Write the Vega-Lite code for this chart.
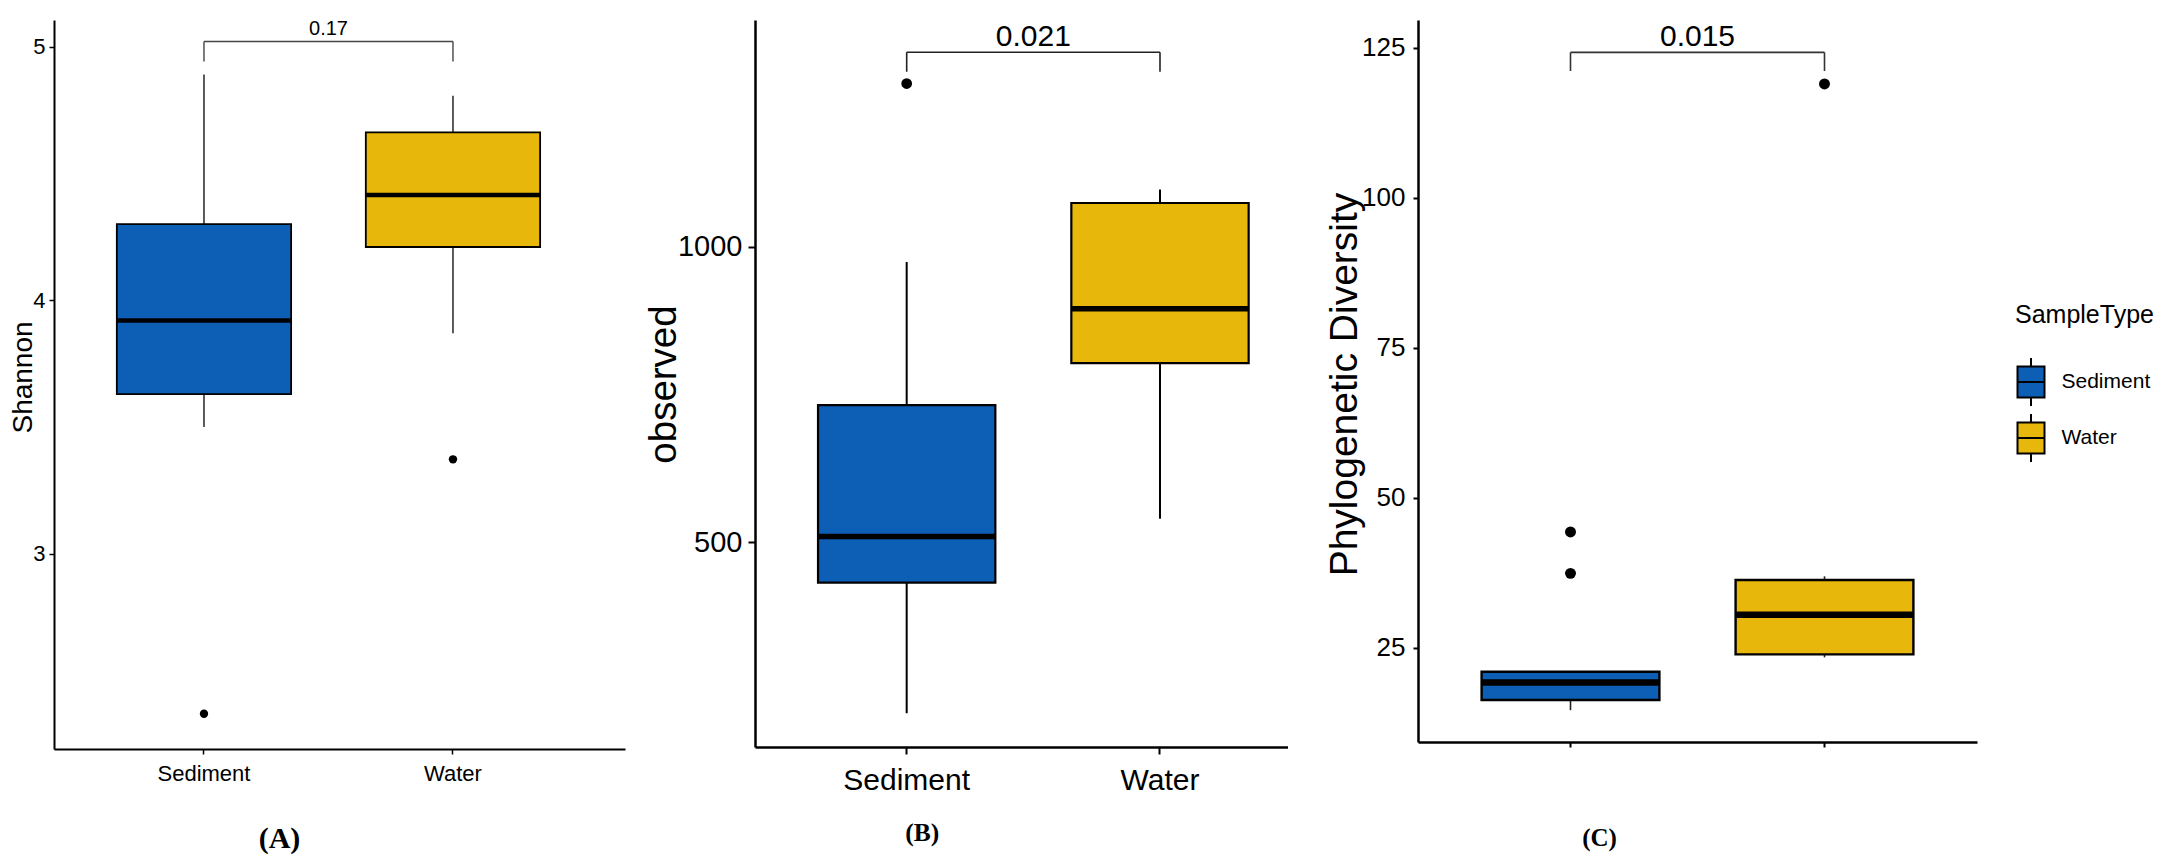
{
  "$schema": "https://vega.github.io/schema/vega-lite/v6.json",
  "autosize": {"type": "none"},
  "padding": {"left": 54, "top": 20, "right": 2112, "bottom": 838},
  "background": "white",
  "spacing": 130,
  "bounds": "flush",
  "config": {
    "view": {"stroke": null},
    "axis": {"grid": false, "domainColor": "black", "tickColor": "black", "labelColor": "black", "titleColor": "black", "titleFontWeight": "normal"}
  },
  "resolve": {"scale": {"fill": "independent"}, "legend": {"fill": "independent"}},
  "datasets": {
    "shannon_box": [
      {"SampleType": "Sediment", "lower": 3.50, "q1": 3.63, "median": 3.92, "q3": 4.30, "upper": 4.89},
      {"SampleType": "Water", "lower": 3.87, "q1": 4.21, "median": 4.415, "q3": 4.662, "upper": 4.806}
    ],
    "shannon_out": [
      {"SampleType": "Sediment", "value": 2.37},
      {"SampleType": "Water", "value": 3.373}
    ],
    "shannon_sig": [
      {"group1": "Sediment", "group2": "Water", "y_top": 5.02, "y_leg": 4.941, "p": "0.17"}
    ],
    "observed_box": [
      {"SampleType": "Sediment", "lower": 211, "q1": 432, "median": 510, "q3": 732, "upper": 974},
      {"SampleType": "Water", "lower": 540, "q1": 803, "median": 895, "q3": 1074, "upper": 1097}
    ],
    "observed_out": [
      {"SampleType": "Sediment", "value": 1276}
    ],
    "observed_sig": [
      {"group1": "Sediment", "group2": "Water", "y_top": 1329, "y_leg": 1296, "p": "0.021"}
    ],
    "pd_box": [
      {"SampleType": "Sediment", "lower": 14.6, "q1": 16.3, "median": 19.2, "q3": 21.0, "upper": 21.1},
      {"SampleType": "Water", "lower": 23.4, "q1": 23.9, "median": 30.5, "q3": 36.3, "upper": 36.9}
    ],
    "pd_out": [
      {"SampleType": "Sediment", "value": 44.3},
      {"SampleType": "Sediment", "value": 37.4},
      {"SampleType": "Water", "value": 118.95}
    ],
    "pd_sig": [
      {"group1": "Sediment", "group2": "Water", "y_top": 124.2, "y_leg": 121.1, "p": "0.015"}
    ]
  },
  "hconcat": [
    {
      "width": 571,
      "height": 729,
      "title": {"text": "(A)", "orient": "bottom", "anchor": "middle", "frame": "group", "dx": -60, "offset": 40, "font": "Liberation Serif", "fontSize": 30, "fontWeight": "bold", "color": "black", "baseline": "top"},
      "layer": [
        {
          "data": {"name": "shannon_box"},
          "mark": {"type": "rule", "color": "#333333", "strokeWidth": 1.6},
          "encoding": {
            "x": {"field": "SampleType", "type": "nominal", "scale": {"type": "band", "domain": ["Sediment", "Water"], "paddingInner": 0, "paddingOuter": 0.1466, "align": 0.349},
              "axis": {"title": null, "labelAngle": 0, "labelFont": "Liberation Sans", "labelFontSize": 22, "labelPadding": 9, "tickSize": 5, "tickWidth": 1.5, "domainWidth": 2}},
            "y": {"field": "lower", "type": "quantitative", "scale": {"domain": [2.231, 5.105], "nice": false, "zero": false},
              "axis": {"title": "Shannon", "values": [3, 4, 5], "format": "d", "domainWidth": 2, "tickWidth": 1.5, "tickSize": 5, "labelFont": "Liberation Sans", "labelFontSize": 22, "labelPadding": 4, "titleFont": "Liberation Sans", "titleFontSize": 28, "titleX": -23, "titleY": 357, "titleBaseline": "alphabetic", "titleAngle": -90}},
            "y2": {"field": "upper"}
          }
        },
        {
          "data": {"name": "shannon_box"},
          "mark": {"type": "bar", "stroke": "black", "strokeWidth": 1.8, "width": {"band": 0.7}},
          "encoding": {
            "x": {"field": "SampleType", "type": "nominal"},
            "y": {"field": "q1", "type": "quantitative"},
            "y2": {"field": "q3"},
            "fill": {"field": "SampleType", "type": "nominal", "scale": {"domain": ["Sediment", "Water"], "range": ["#0D5EB5", "#E8B70C"]}, "legend": null}
          }
        },
        {
          "data": {"name": "shannon_box"},
          "mark": {"type": "tick", "color": "black", "size": 174, "thickness": 4.5, "opacity": 1},
          "encoding": {
            "x": {"field": "SampleType", "type": "nominal"},
            "y": {"field": "median", "type": "quantitative"}
          }
        },
        {
          "data": {"name": "shannon_out"},
          "mark": {"type": "circle", "color": "black", "size": 70, "opacity": 1},
          "encoding": {
            "x": {"field": "SampleType", "type": "nominal"},
            "y": {"field": "value", "type": "quantitative"}
          }
        },
        {
          "data": {"name": "shannon_sig"},
          "mark": {"type": "rule", "color": "#444444", "strokeWidth": 1.4},
          "encoding": {
            "x": {"field": "group1", "type": "nominal"},
            "x2": {"field": "group2"},
            "y": {"field": "y_top", "type": "quantitative"}
          }
        },
        {
          "data": {"name": "shannon_sig"},
          "mark": {"type": "rule", "color": "#444444", "strokeWidth": 1.4},
          "encoding": {
            "x": {"field": "group1", "type": "nominal"},
            "y": {"field": "y_top", "type": "quantitative"},
            "y2": {"field": "y_leg"}
          }
        },
        {
          "data": {"name": "shannon_sig"},
          "mark": {"type": "rule", "color": "#444444", "strokeWidth": 1.4},
          "encoding": {
            "x": {"field": "group2", "type": "nominal"},
            "y": {"field": "y_top", "type": "quantitative"},
            "y2": {"field": "y_leg"}
          }
        },
        {
          "data": {"name": "shannon_sig"},
          "mark": {"type": "text", "font": "Liberation Sans", "fontSize": 20, "dy": -7, "baseline": "alphabetic", "align": "center", "color": "black"},
          "encoding": {
            "x": {"field": "group1", "type": "nominal", "bandPosition": 1},
            "y": {"field": "y_top", "type": "quantitative"},
            "text": {"field": "p"}
          }
        }
      ]
    },
    {
      "width": 532.5,
      "height": 727,
      "title": {"text": "(B)", "orient": "bottom", "anchor": "middle", "frame": "group", "dx": -99, "offset": 26, "font": "Liberation Serif", "fontSize": 25.5, "fontWeight": "bold", "color": "black", "baseline": "top"},
      "layer": [
        {
          "data": {"name": "observed_box"},
          "mark": {"type": "rule", "color": "black", "strokeWidth": 2},
          "encoding": {
            "x": {"field": "SampleType", "type": "nominal", "scale": {"type": "band", "domain": ["Sediment", "Water"], "paddingInner": 0, "paddingOuter": 0.0511, "align": 0.967},
              "axis": {"title": null, "labelAngle": 0, "labelFont": "Liberation Sans", "labelFontSize": 30, "labelPadding": 11, "tickSize": 7, "tickWidth": 2, "domainWidth": 2.5}},
            "y": {"field": "lower", "type": "quantitative", "scale": {"domain": [153.8, 1383.5], "nice": false, "zero": false},
              "axis": {"title": "observed", "values": [500, 1000], "format": "d", "domainWidth": 2.5, "tickWidth": 2, "tickSize": 7, "labelFont": "Liberation Sans", "labelFontSize": 29, "labelPadding": 6, "titleFont": "Liberation Sans", "titleFontSize": 38.5, "titleX": -80, "titleY": 364, "titleBaseline": "alphabetic", "titleAngle": -90}},
            "y2": {"field": "upper"}
          }
        },
        {
          "data": {"name": "observed_box"},
          "mark": {"type": "bar", "stroke": "black", "strokeWidth": 2.2, "width": {"band": 0.7}},
          "encoding": {
            "x": {"field": "SampleType", "type": "nominal"},
            "y": {"field": "q1", "type": "quantitative"},
            "y2": {"field": "q3"},
            "fill": {"field": "SampleType", "type": "nominal", "scale": {"domain": ["Sediment", "Water"], "range": ["#0D5EB5", "#E8B70C"]}, "legend": null}
          }
        },
        {
          "data": {"name": "observed_box"},
          "mark": {"type": "tick", "color": "black", "size": 177, "thickness": 5.5, "opacity": 1},
          "encoding": {
            "x": {"field": "SampleType", "type": "nominal"},
            "y": {"field": "median", "type": "quantitative"}
          }
        },
        {
          "data": {"name": "observed_out"},
          "mark": {"type": "circle", "color": "black", "size": 115, "opacity": 1},
          "encoding": {
            "x": {"field": "SampleType", "type": "nominal"},
            "y": {"field": "value", "type": "quantitative"}
          }
        },
        {
          "data": {"name": "observed_sig"},
          "mark": {"type": "rule", "color": "#222222", "strokeWidth": 1.6},
          "encoding": {
            "x": {"field": "group1", "type": "nominal"},
            "x2": {"field": "group2"},
            "y": {"field": "y_top", "type": "quantitative"}
          }
        },
        {
          "data": {"name": "observed_sig"},
          "mark": {"type": "rule", "color": "#222222", "strokeWidth": 1.6},
          "encoding": {
            "x": {"field": "group1", "type": "nominal"},
            "y": {"field": "y_top", "type": "quantitative"},
            "y2": {"field": "y_leg"}
          }
        },
        {
          "data": {"name": "observed_sig"},
          "mark": {"type": "rule", "color": "#222222", "strokeWidth": 1.6},
          "encoding": {
            "x": {"field": "group2", "type": "nominal"},
            "y": {"field": "y_top", "type": "quantitative"},
            "y2": {"field": "y_leg"}
          }
        },
        {
          "data": {"name": "observed_sig"},
          "mark": {"type": "text", "font": "Liberation Sans", "fontSize": 30, "dy": -6, "baseline": "alphabetic", "align": "center", "color": "black"},
          "encoding": {
            "x": {"field": "group1", "type": "nominal", "bandPosition": 1},
            "y": {"field": "y_top", "type": "quantitative"},
            "text": {"field": "p"}
          }
        }
      ]
    },
    {
      "width": 559,
      "height": 722,
      "title": {"text": "(C)", "orient": "bottom", "anchor": "middle", "frame": "group", "dx": -98, "offset": 78, "font": "Liberation Serif", "fontSize": 25, "fontWeight": "bold", "color": "black", "baseline": "top"},
      "layer": [
        {
          "data": {"name": "pd_box"},
          "mark": {"type": "rule", "color": "#222222", "strokeWidth": 1.6},
          "encoding": {
            "x": {"field": "SampleType", "type": "nominal", "scale": {"type": "band", "domain": ["Sediment", "Water"], "paddingInner": 0, "paddingOuter": 0.1004, "align": 0.5},
              "axis": {"title": null, "labels": false, "tickSize": 5, "tickWidth": 2, "domainWidth": 2.5}},
            "y": {"field": "lower", "type": "quantitative", "scale": {"domain": [9.3, 129.6], "nice": false, "zero": false},
              "axis": {"title": "Phylogenetic Diversity", "values": [25, 50, 75, 100, 125], "format": "d", "domainWidth": 2.5, "tickWidth": 2, "tickSize": 5, "labelFont": "Liberation Sans", "labelFontSize": 26, "labelPadding": 8, "titleFont": "Liberation Sans", "titleFontSize": 39, "titleX": -62, "titleY": 364, "titleBaseline": "alphabetic", "titleAngle": -90}},
            "y2": {"field": "upper"}
          }
        },
        {
          "data": {"name": "pd_box"},
          "mark": {"type": "bar", "stroke": "black", "strokeWidth": 2.4, "width": {"band": 0.7}},
          "encoding": {
            "x": {"field": "SampleType", "type": "nominal"},
            "y": {"field": "q1", "type": "quantitative"},
            "y2": {"field": "q3"},
            "fill": {"field": "SampleType", "type": "nominal", "scale": {"domain": ["Sediment", "Water"], "range": ["#0D5EB5", "#E8B70C"]},
              "legend": {"orient": "none", "legendX": 597, "legendY": 283, "direction": "vertical", "padding": 0, "title": "SampleType", "titleFont": "Liberation Sans", "titleFontSize": 25, "titleFontWeight": "normal", "titleColor": "black", "titlePadding": 38, "labelFont": "Liberation Sans", "labelFontSize": 21, "labelColor": "black", "labelOffset": 14.5, "symbolType": "M0,-1.6V-1.03M-0.9,-1.03H0.9V1.03H-0.9ZM-0.9,0H0.9M0,1.03V1.6", "symbolSize": 900, "symbolStrokeColor": "black", "symbolStrokeWidth": 2, "symbolOpacity": 1, "rowPadding": 0}}
          }
        },
        {
          "data": {"name": "pd_box"},
          "mark": {"type": "tick", "color": "black", "size": 178, "thickness": 6.5, "opacity": 1},
          "encoding": {
            "x": {"field": "SampleType", "type": "nominal"},
            "y": {"field": "median", "type": "quantitative"}
          }
        },
        {
          "data": {"name": "pd_out"},
          "mark": {"type": "circle", "color": "black", "size": 120, "opacity": 1},
          "encoding": {
            "x": {"field": "SampleType", "type": "nominal"},
            "y": {"field": "value", "type": "quantitative"}
          }
        },
        {
          "data": {"name": "pd_sig"},
          "mark": {"type": "rule", "color": "#333333", "strokeWidth": 1.6},
          "encoding": {
            "x": {"field": "group1", "type": "nominal"},
            "x2": {"field": "group2"},
            "y": {"field": "y_top", "type": "quantitative"}
          }
        },
        {
          "data": {"name": "pd_sig"},
          "mark": {"type": "rule", "color": "#333333", "strokeWidth": 1.6},
          "encoding": {
            "x": {"field": "group1", "type": "nominal"},
            "y": {"field": "y_top", "type": "quantitative"},
            "y2": {"field": "y_leg"}
          }
        },
        {
          "data": {"name": "pd_sig"},
          "mark": {"type": "rule", "color": "#333333", "strokeWidth": 1.6},
          "encoding": {
            "x": {"field": "group2", "type": "nominal"},
            "y": {"field": "y_top", "type": "quantitative"},
            "y2": {"field": "y_leg"}
          }
        },
        {
          "data": {"name": "pd_sig"},
          "mark": {"type": "text", "font": "Liberation Sans", "fontSize": 30, "dy": -6, "baseline": "alphabetic", "align": "center", "color": "black"},
          "encoding": {
            "x": {"field": "group1", "type": "nominal", "bandPosition": 1},
            "y": {"field": "y_top", "type": "quantitative"},
            "text": {"field": "p"}
          }
        }
      ]
    }
  ]
}
